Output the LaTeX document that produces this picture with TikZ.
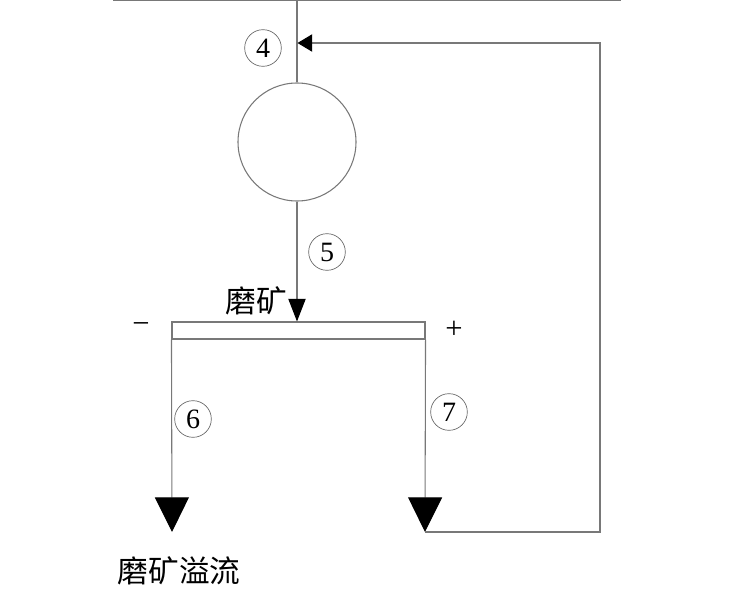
\documentclass[tikz,border=0pt]{standalone}
\usepackage{fontspec}
\setmainfont{Liberation Serif}
\newfontfamily\cjk{Noto Sans CJK SC}
\usetikzlibrary{arrows.meta}
\definecolor{linegray}{RGB}{120,120,120}
\begin{document}
\begin{tikzpicture}[x=0.75pt,y=-0.75pt,
  ln/.style={draw=linegray, line width=0.8pt},
  num/.style={circle, draw=black!60, line width=0.5pt, minimum size=27.5pt, inner sep=0pt, font=\fontsize{21}{21}\selectfont},
  cn/.style={font=\cjk\fontsize{23}{23}\selectfont, inner sep=0pt},
  sgn/.style={font=\fontsize{23}{23}\selectfont, inner sep=0pt},
  bigtip/.style={-{Triangle[length=26pt,width=25.5pt,color=black]}},
  midtip/.style={-{Triangle[length=17pt,width=13pt,color=black]}},
  smalltip/.style={-{Triangle[length=11pt,width=13pt,color=black]}}]
\useasboundingbox (0,0) rectangle (736,589);
% top feed line
\coordinate (topL) at (113,0.6);
\coordinate (topR) at (621,0.6);
\coordinate (feed) at (297,0.6);
\draw[ln] (topL) -- (topR);
% mill
\node[circle, ln, minimum size=88.5pt, inner sep=0pt] (mill) at (297,142) {};
\draw[ln] (feed) -- (mill.north);
% screen
\node[ln, rectangle, minimum width=189.75pt, minimum height=12.75pt, inner sep=0pt] (screen) at (298.5,330.5) {};
\draw[ln, midtip] (mill.south) -- (mill.south |- screen.north);
% products
\coordinate (oflow) at (172,532);
\coordinate (uflow) at (425,532);
\coordinate (r1) at (600,532);
\coordinate (r2) at (600,43);
\coordinate (ret) at (297.5,43);
\draw[ln, bigtip] (screen.south west) -- (oflow);
\draw[ln, bigtip] (screen.south east) -- (uflow);
\draw[ln, smalltip] (uflow) -- (r1) -- (r2) -- (ret);
% labels
\node[num] (n4) at (263,48) {4};
\node[num] (n5) at (327,252) {5};
\node[num] (n6) at (193,419) {6};
\node[num] (n7) at (449,412) {7};
\node[cn] (lmill) at (256,301) {磨矿};
\node[cn] (lof) at (179,571) {磨矿溢流};
\node[sgn] (minus) at (141,328) {−};
\node[sgn] (plus) at (454,330) {+};
\end{tikzpicture}
\end{document}
